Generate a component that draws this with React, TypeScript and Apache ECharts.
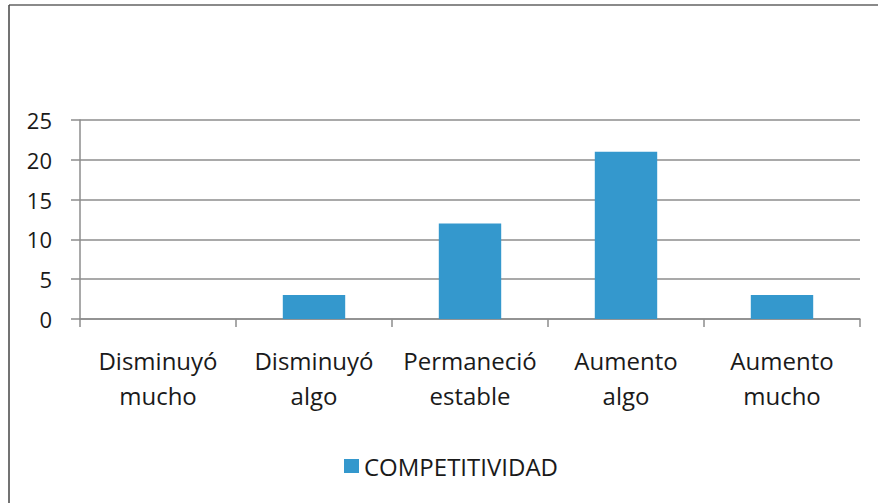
import React, { useEffect, useRef } from "react";
import * as echarts from "echarts";

const categories = ["Disminuyó\nmucho", "Disminuyó\nalgo", "Permaneció\nestable", "Aumento\nalgo", "Aumento\nmucho"];
const seriesName = "COMPETITIVIDAD";
const values = [0, 3, 12, 21, 3];
const yMin = 0;
const yMax = 25;
const yInterval = 5;

export default function App() {
  const ref = useRef<HTMLDivElement>(null);
  useEffect(() => {
    if (!ref.current) return;
    const chart = echarts.init(ref.current, null, { renderer: "svg" });
    const font = "Open Sans, DejaVu Sans, sans-serif";
    chart.setOption({
      animation: false,
      backgroundColor: "#ffffff",
      graphic: [
        { type: "line", shape: { x1: 9, y1: 5, x2: 878, y2: 5 }, style: { stroke: "#8a8a8a", lineWidth: 2 } },
        { type: "line", shape: { x1: 9, y1: 5, x2: 9, y2: 503 }, style: { stroke: "#444444", lineWidth: 1.5 } },
      ],
      grid: { left: 80, right: 18, top: 120, bottom: 184 },
      legend: {
        data: [seriesName],
        left: 339,
        top: 449,
        itemWidth: 15,
        itemHeight: 14,
        itemGap: 7,
        icon: "rect",
        textStyle: { fontSize: 24, color: "#1a1a1a", fontFamily: font },
      },
      xAxis: {
        type: "category",
        data: categories,
        boundaryGap: true,
        axisLine: { show: true, lineStyle: { color: "#8c8c8c", width: 1.5 } },
        axisTick: { show: true, length: 8, interval: 0, lineStyle: { color: "#8c8c8c", width: 1.5 } },
        axisLabel: {
          interval: 0,
          margin: 24,
          fontSize: 24,
          lineHeight: 35,
          color: "#1a1a1a",
          fontFamily: font,
        },
      },
      yAxis: {
        type: "value",
        min: yMin,
        max: yMax,
        interval: yInterval,
        axisLine: { show: true, lineStyle: { color: "#8c8c8c", width: 1.5 } },
        axisTick: { show: true, length: 9, lineStyle: { color: "#8c8c8c", width: 1.5 } },
        splitLine: { show: true, lineStyle: { color: "#8c8c8c", width: 1.5 } },
        axisLabel: { margin: 28, fontSize: 22, color: "#1a1a1a", fontFamily: font },
      },
      series: [
        {
          name: seriesName,
          type: "bar",
          data: values,
          barWidth: "40%",
          itemStyle: { color: "#3498cd" },
        },
      ],
    });
    return () => chart.dispose();
  }, []);
  return (
    <div
      ref={ref}
      style={{ position: "absolute", left: 0, top: 0, width: 878, height: 503 }}
    />
  );
}
